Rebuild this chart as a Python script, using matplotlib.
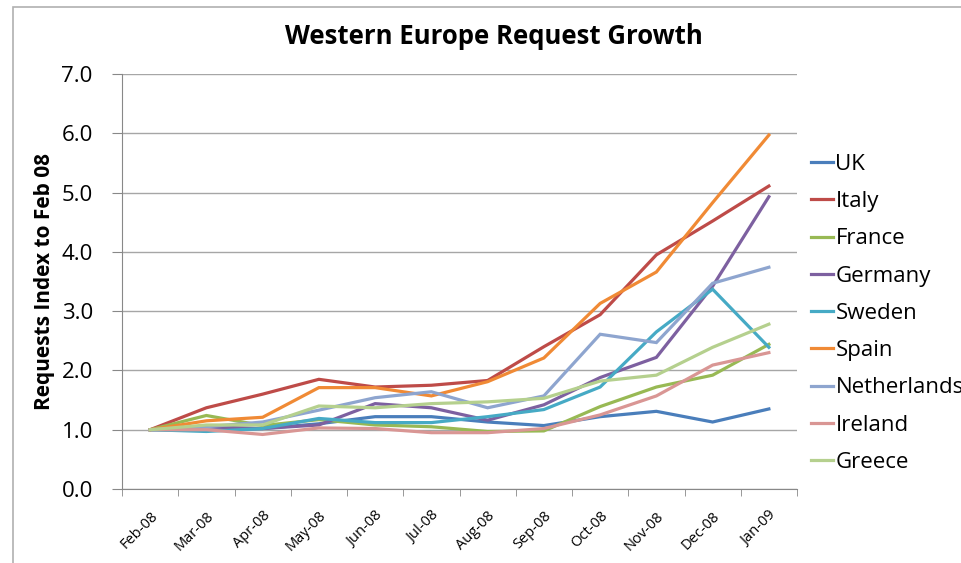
import matplotlib.pyplot as plt
from matplotlib.patches import Rectangle

plt.rcParams['font.family'] = ['Open Sans', 'DejaVu Sans']

# months on the x axis
months = ['Feb-08', 'Mar-08', 'Apr-08', 'May-08', 'Jun-08', 'Jul-08',
          'Aug-08', 'Sep-08', 'Oct-08', 'Nov-08', 'Dec-08', 'Jan-09']

# request index per country (Feb 08 = 1.0)
uk          = [1.00, 0.99, 1.02, 1.10, 1.22, 1.22, 1.13, 1.07, 1.22, 1.31, 1.13, 1.35]
italy       = [1.00, 1.37, 1.60, 1.85, 1.72, 1.75, 1.83, 2.40, 2.94, 3.95, 4.52, 5.11]
france      = [1.00, 1.24, 1.07, 1.17, 1.08, 1.05, 0.97, 0.98, 1.39, 1.72, 1.92, 2.44]
germany     = [1.00, 1.05, 1.02, 1.08, 1.44, 1.37, 1.16, 1.42, 1.88, 2.22, 3.42, 4.93]
sweden      = [1.00, 0.97, 1.02, 1.19, 1.12, 1.12, 1.22, 1.34, 1.72, 2.65, 3.37, 2.39]
spain       = [1.00, 1.15, 1.21, 1.71, 1.71, 1.57, 1.81, 2.21, 3.13, 3.66, 4.83, 5.97]
netherlands = [1.00, 1.05, 1.13, 1.33, 1.54, 1.64, 1.37, 1.57, 2.61, 2.47, 3.47, 3.74]
ireland     = [1.00, 1.00, 0.92, 1.03, 1.02, 0.95, 0.95, 1.02, 1.25, 1.57, 2.09, 2.30]
greece      = [1.00, 1.08, 1.08, 1.40, 1.37, 1.44, 1.47, 1.53, 1.82, 1.92, 2.39, 2.78]

series = [
    ('UK', uk, '#4A7EBB'),
    ('Italy', italy, '#BE4B48'),
    ('France', france, '#98B954'),
    ('Germany', germany, '#7D60A0'),
    ('Sweden', sweden, '#46AAC5'),
    ('Spain', spain, '#F08A35'),
    ('Netherlands', netherlands, '#8EA5CF'),
    ('Ireland', ireland, '#D99694'),
    ('Greece', greece, '#B5D08E'),
]

fig = plt.figure(figsize=(9.61, 5.63), dpi=100)
ax = fig.add_axes([122 / 961, 1 - 489 / 563, 675 / 961, 415 / 563])

# chart area border (Excel style)
fig.patches.append(Rectangle((13 / 961, -0.1), 1.2, 1 - 7 / 563 + 0.1,
                             transform=fig.transFigure, fill=False,
                             edgecolor='#b0b0b0', linewidth=1.2))

x = list(range(len(months)))
for name, vals, col in series:
    ax.plot(x, vals, color=col, linewidth=2.3, label=name, solid_joinstyle='miter')

ax.set_xlim(-0.5, len(months) - 0.5)
ax.set_ylim(0, 7)
ax.set_yticks(range(8))
ax.set_yticklabels([f'{v:.1f}' for v in range(8)], fontsize=16)
ax.yaxis.grid(True, color='#a6a6a6', linewidth=1.0)
ax.set_axisbelow(True)

ax.set_xticks(x)
ax.set_xticklabels(months, fontsize=10.5, rotation=45, ha='right',
                   rotation_mode='anchor')
ax.set_xticks([i - 0.5 for i in range(len(months) + 1)], minor=True)
ax.tick_params(axis='x', which='major', length=0, pad=14)
ax.tick_params(axis='x', which='minor', length=5, color='#888888')
ax.tick_params(axis='y', length=7, color='#888888', pad=14)

for s in ['top', 'right']:
    ax.spines[s].set_visible(False)
for s in ['left', 'bottom']:
    ax.spines[s].set_color('#888888')

ax.set_ylabel('Requests Index to Feb 08', fontsize=15, fontweight='bold', labelpad=5)
fig.text(494 / 961, 1 - 36 / 563, 'Western Europe Request Growth',
         fontsize=18.5, fontweight='bold', ha='center', va='center')

fig.legend(loc='upper left', bbox_to_anchor=(811 / 961, 1 - 154 / 563),
           frameon=False, fontsize=16, handlelength=1.0, handletextpad=0.1,
           labelspacing=0.73, borderaxespad=0, borderpad=0)

fig.savefig('out.png', dpi=100)
